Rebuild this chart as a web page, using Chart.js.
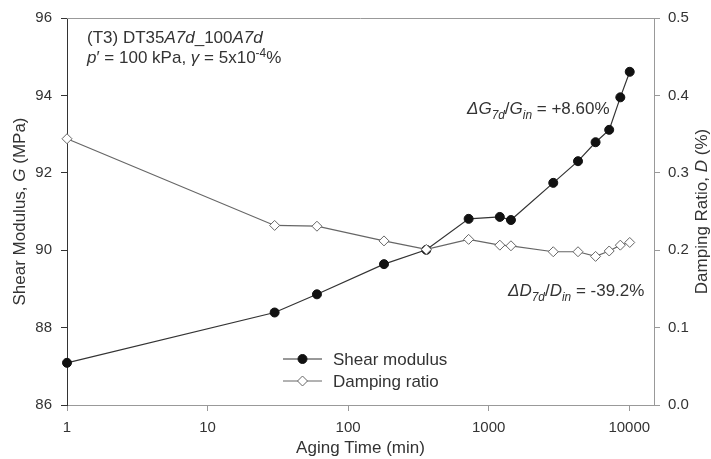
<!DOCTYPE html>
<html>
<head>
<meta charset="utf-8">
<script src="https://cdn.jsdelivr.net/npm/chart.js@4.4.1/dist/chart.umd.min.js"></script>
<style>
  html, body { margin: 0; padding: 0; background: #fff; }
</style>
</head>
<body>
<canvas id="c" width="711" height="459"></canvas>
<script>
// Aging test T3: shear modulus (left axis) and damping ratio (right axis) vs aging time
const agingTime = [1, 30, 60, 180, 360, 720, 1200, 1440, 2880, 4320, 5760, 7200, 8640, 10080];
const shearModulus = [87.09, 88.39, 88.86, 89.64, 90.01, 90.81, 90.86, 90.78, 91.74, 92.30, 92.79, 93.11, 93.95, 94.61];
const dampingRatio = [0.344, 0.232, 0.231, 0.212, 0.201, 0.214, 0.2065, 0.2057, 0.198, 0.198, 0.192, 0.199, 0.2065, 0.210];
const xTicks = [1, 10, 100, 1000, 10000];
const gTicks = [86, 88, 90, 92, 94, 96];
const dTicks = [0, 0.1, 0.2, 0.3, 0.4, 0.5];
const seriesLabels = ["Shear modulus", "Damping ratio"];

const FONT = "'Liberation Sans', Arial, Helvetica, sans-serif";
const TXT = "#333";

// draw a run of text parts: { t, i (italic), sub, sup }
function richWidth(ctx, parts, size) {
  let w = 0;
  for (const p of parts) {
    const s = (p.sub || p.sup) ? size * 0.7 : size;
    ctx.font = (p.i ? "italic " : "") + s + "px " + FONT;
    w += ctx.measureText(p.t).width;
  }
  return w;
}

function drawRich(ctx, x, y, parts, size, align) {
  let cx = x;
  if (align === "center") cx = x - richWidth(ctx, parts, size) / 2;
  for (const p of parts) {
    const s = (p.sub || p.sup) ? size * 0.7 : size;
    ctx.font = (p.i ? "italic " : "") + s + "px " + FONT;
    let dy = 0;
    if (p.sub) dy = size * 0.28;
    if (p.sup) dy = -size * 0.38;
    ctx.fillText(p.t, cx, y + dy);
    cx += ctx.measureText(p.t).width;
  }
}

const decor = {
  id: "decor",
  afterDraw(chart) {
    const { ctx, chartArea: ca } = chart;
    ctx.save();

    // top frame line
    ctx.strokeStyle = "#999";
    ctx.lineWidth = 1;
    ctx.beginPath();
    ctx.moveTo(ca.left, ca.top + 0.5);
    ctx.lineTo(ca.right, ca.top + 0.5);
    ctx.stroke();

    ctx.fillStyle = TXT;
    ctx.textBaseline = "alphabetic";
    ctx.textAlign = "left";

    // test label
    drawRich(ctx, ca.left + 20, ca.top + 25, [
      { t: "(T3) DT35" }, { t: "A7d", i: 1 }, { t: "_100" }, { t: "A7d", i: 1 }
    ], 17);
    drawRich(ctx, ca.left + 20, ca.top + 45, [
      { t: "p", i: 1 }, { t: "\u2032 = 100 kPa, " }, { t: "\u03b3", i: 1 },
      { t: " = 5x10" }, { t: "-4", sup: 1 }, { t: "%" }
    ], 17);

    // change annotations
    drawRich(ctx, ca.left + 400, ca.top + 96, [
      { t: "\u0394G", i: 1 }, { t: "7d", i: 1, sub: 1 }, { t: "/" }, { t: "G", i: 1 },
      { t: "in", i: 1, sub: 1 }, { t: " = +8.60%" }
    ], 17);
    drawRich(ctx, ca.left + 441, ca.top + 278, [
      { t: "\u0394D", i: 1 }, { t: "7d", i: 1, sub: 1 }, { t: "/" }, { t: "D", i: 1 },
      { t: "in", i: 1, sub: 1 }, { t: " = -39.2%" }
    ], 17);

    // axis titles (rotated)
    const midY = (ca.top + ca.bottom) / 2;
    ctx.textBaseline = "middle";
    ctx.save();
    ctx.translate(20, midY);
    ctx.rotate(-Math.PI / 2);
    drawRich(ctx, 0, 0, [{ t: "Shear Modulus, " }, { t: "G", i: 1 }, { t: " (MPa)" }], 17, "center");
    ctx.restore();
    ctx.save();
    ctx.translate(chart.width - 9, midY);
    ctx.rotate(-Math.PI / 2);
    drawRich(ctx, 0, 0, [{ t: "Damping Ratio, " }, { t: "D", i: 1 }, { t: " (%)" }], 17, "center");
    ctx.restore();

    // legend inside the plot
    const lx = ca.left + 216;
    const rows = [ca.bottom - 46, ca.bottom - 24];
    chart.data.datasets.forEach((ds, k) => {
      const y = rows[k];
      const mx = lx + 19.5;
      ctx.strokeStyle = ds.borderColor;
      ctx.lineWidth = 1;
      ctx.beginPath();
      ctx.moveTo(lx, y);
      ctx.lineTo(lx + 39, y);
      ctx.stroke();
      ctx.fillStyle = ds.pointBackgroundColor;
      ctx.strokeStyle = ds.pointBorderColor;
      ctx.beginPath();
      if (ds.pointStyle === "circle") {
        ctx.arc(mx, y, ds.pointRadius, 0, Math.PI * 2);
      } else {
        const r = ds.pointRadius;
        ctx.moveTo(mx, y - r);
        ctx.lineTo(mx + r, y);
        ctx.lineTo(mx, y + r);
        ctx.lineTo(mx - r, y);
        ctx.closePath();
      }
      ctx.fill();
      ctx.stroke();
      ctx.fillStyle = TXT;
      ctx.textAlign = "left";
      ctx.font = "17px " + FONT;
      ctx.fillText(ds.label, lx + 50, y + 1);
    });

    ctx.restore();
  },
};

new Chart(document.getElementById("c"), {
  type: "line",
  data: {
    datasets: [
      {
        label: seriesLabels[0],
        data: agingTime.map((t, i) => ({ x: t, y: shearModulus[i] })),
        yAxisID: "y",
        borderColor: "#333",
        borderWidth: 1.2,
        pointStyle: "circle",
        pointRadius: 4.5,
        pointBackgroundColor: "#111",
        pointBorderColor: "#111",
        pointBorderWidth: 1,
        tension: 0,
        clip: false,
        order: 1,
      },
      {
        label: seriesLabels[1],
        data: agingTime.map((t, i) => ({ x: t, y: dampingRatio[i] })),
        yAxisID: "y1",
        borderColor: "#666",
        borderWidth: 1.2,
        pointStyle: "rectRot",
        pointRadius: 5,
        pointBackgroundColor: "#fff",
        pointBorderColor: "#666",
        pointBorderWidth: 1,
        tension: 0,
        clip: false,
        order: 0,
      },
    ],
  },
  options: {
    responsive: false,
    animation: false,
    devicePixelRatio: 1,
    layout: { padding: { top: 12, left: 0, right: 0, bottom: 0 } },
    plugins: { legend: { display: false }, tooltip: { enabled: false } },
    scales: {
      x: {
        type: "logarithmic",
        position: "bottom",
        min: 1,
        max: 15000,
        afterBuildTicks: (s) => { s.ticks = xTicks.map((v) => ({ value: v })); },
        afterFit: (s) => { s.height = 54; },
        border: { color: "#999", width: 1 },
        grid: { drawOnChartArea: false, tickLength: 6, tickColor: "#999" },
        ticks: {
          color: TXT, font: { family: FONT, size: 15 }, padding: 8,
          maxRotation: 0, autoSkip: false,
          callback: (v) => String(v),
        },
        title: {
          display: true, text: "Aging Time (min)", color: TXT,
          font: { family: FONT, size: 17 }, padding: { top: 0, bottom: 0 },
        },
      },
      y: {
        position: "left",
        min: 86,
        max: 96,
        afterBuildTicks: (s) => { s.ticks = gTicks.map((v) => ({ value: v })); },
        afterFit: (s) => { s.width = 67; },
        border: { color: "#333", width: 1 },
        grid: { drawOnChartArea: false, tickLength: 6, tickColor: "#333" },
        ticks: {
          color: TXT, font: { family: FONT, size: 15 }, padding: 9,
          callback: (v) => String(v),
        },
      },
      y1: {
        position: "right",
        min: 0,
        max: 0.5,
        afterBuildTicks: (s) => { s.ticks = dTicks.map((v) => ({ value: v })); },
        afterFit: (s) => { s.width = 57; },
        border: { color: "#999", width: 1 },
        grid: { drawOnChartArea: false, tickLength: 6, tickColor: "#999" },
        ticks: {
          color: TXT, font: { family: FONT, size: 15 }, padding: 8,
          callback: (v) => v.toFixed(1),
        },
      },
    },
  },
  plugins: [decor],
});
</script>
</body>
</html>
